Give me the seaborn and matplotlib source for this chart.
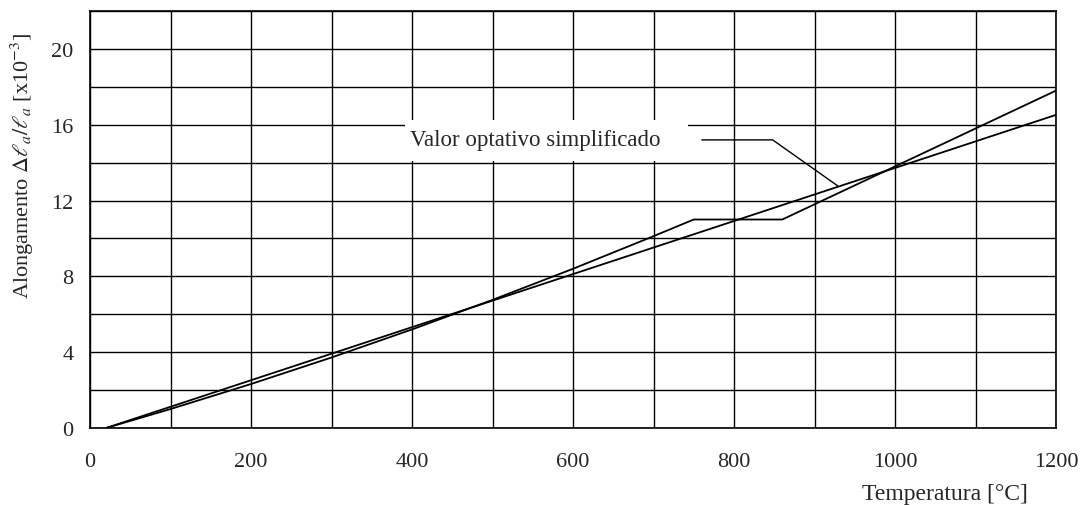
import matplotlib
matplotlib.use("Agg")
import matplotlib.pyplot as plt
import seaborn as sns
import pandas as pd
from matplotlib.patches import Rectangle

# Data
temp_curve = [20, 100, 200, 300, 400, 500, 600, 700, 750, 860, 900, 1000, 1100, 1200]
elong_curve = [0.0, 1.0, 2.32, 3.72, 5.2, 6.76, 8.4, 10.12, 11.0, 11.0, 11.8, 13.8, 15.8, 17.8]
temp_simpl = [20, 1200]
elong_simpl = [0.0, 16.52]
x_ticks = [0, 200, 400, 600, 800, 1000, 1200]
y_ticks = [0, 4, 8, 12, 16, 20]
label_text = "Valor optativo simplificado"

sns.set_style("white")
plt.rcParams['font.family'] = ['Liberation Serif', 'DejaVu Serif']
plt.rcParams['mathtext.fontset'] = 'stix'

fig = plt.figure(figsize=(10.82, 5.06), dpi=100)
ax = fig.add_axes([90/1082, 1 - 429/506, (1056-90)/1082, (429-12)/506])

df1 = pd.DataFrame({"T": temp_curve, "E": elong_curve})
df2 = pd.DataFrame({"T": temp_simpl, "E": elong_simpl})
sns.lineplot(data=df1, x="T", y="E", ax=ax, color="black", lw=1.3, sort=False, zorder=5)
sns.lineplot(data=df2, x="T", y="E", ax=ax, color="black", lw=1.3, sort=False, zorder=5)

ax.set_xlim(0, 1200)
ax.set_ylim(0, 22)
ax.set_xticks(x_ticks)
ax.set_yticks(y_ticks)
ax.set_xticks(range(0, 1201, 100), minor=True)
ax.set_yticks(range(0, 23, 2), minor=True)
ax.grid(which='both', color='black', lw=1.0, zorder=1)
ax.set_axisbelow(True)
ax.tick_params(which='major', direction='out', length=7, width=1.2, color='black',
               labelsize=16)
ax.tick_params(axis='x', which='major', pad=10)
ax.tick_params(axis='y', which='major', pad=5)
ax.tick_params(which='minor', length=0)
for s in ax.spines.values():
    s.set_color('black')
    s.set_linewidth(1.2)
ax.set_xlabel("")
ax.set_ylabel("")

# label with white background and leader line
ax.add_patch(Rectangle((391, 14.1), 352, 2.15, facecolor='white', edgecolor='none', zorder=2))
ax.text(397, 15.2, label_text, fontsize=16.5, va='center', ha='left', zorder=6)
ax.plot([760, 848, 929], [15.2, 15.2, 12.77], color='black', lw=1.0, zorder=6)

fig.text(1028/1082, 1 - 495/506, "Temperatura [°C]", fontsize=17, ha='right', va='center')
fig.text(22/1082, 1 - 166/506, r"Alongamento $\Delta\ell_a/\ell_a$ [x10$^{-3}$]",
         fontsize=16, rotation=90, ha='center', va='center')

fig.savefig("out.png", dpi=100)
